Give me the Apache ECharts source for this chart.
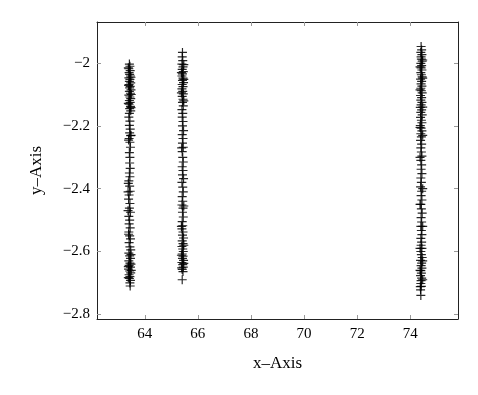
<!DOCTYPE html>
<html><head><meta charset="utf-8">
<script src="https://cdn.jsdelivr.net/npm/echarts@6/dist/echarts.min.js"></script>
<style>html,body{margin:0;padding:0;background:#fff}#c{width:478px;height:395px}</style>
</head><body><div id="c"></div>
<script>
const xTicks = [64, 66, 68, 70, 72, 74];
const yTicks = [-2.8, -2.6, -2.4, -2.2, -2];
const cluster1 = [
[63.42,-2.003],[63.44,-2.010],[63.40,-2.018],[63.45,-2.024],[63.41,-2.030],[63.43,-2.036],[63.46,-2.041],[63.40,-2.047],
[63.44,-2.052],[63.42,-2.058],[63.47,-2.063],[63.41,-2.068],[63.45,-2.074],[63.43,-2.079],[63.48,-2.085],[63.42,-2.090],
[63.46,-2.096],[63.40,-2.102],[63.44,-2.108],[63.47,-2.113],[63.42,-2.119],[63.45,-2.125],[63.41,-2.131],[63.46,-2.138],
[63.43,-2.145],[63.47,-2.152],[63.42,-2.160],[63.40,-2.172],[63.44,-2.185],[63.42,-2.198],[63.45,-2.210],[63.43,-2.222],
[63.47,-2.231],[63.41,-2.240],[63.44,-2.252],[63.46,-2.268],[63.42,-2.285],[63.44,-2.300],[63.43,-2.318],[63.45,-2.335],
[63.42,-2.350],[63.44,-2.362],[63.40,-2.375],[63.38,-2.383],[63.43,-2.392],[63.45,-2.408],[63.41,-2.420],[63.39,-2.433],
[63.44,-2.447],[63.42,-2.462],[63.46,-2.475],[63.40,-2.488],[63.43,-2.500],[63.41,-2.512],[63.45,-2.525],[63.40,-2.538],
[63.43,-2.550],[63.46,-2.560],[63.41,-2.572],[63.44,-2.585],[63.47,-2.595],[63.40,-2.605],[63.43,-2.614],[63.46,-2.622],
[63.40,-2.630],[63.44,-2.637],[63.41,-2.644],[63.46,-2.650],[63.39,-2.656],[63.43,-2.662],[63.47,-2.668],[63.41,-2.674],
[63.44,-2.680],[63.42,-2.686],[63.46,-2.692],[63.44,-2.700],[63.45,-2.710],
[63.38,-2.015],[63.48,-2.045],[63.39,-2.071],[63.49,-2.100],[63.38,-2.128],[63.48,-2.142],[63.39,-2.245],[63.37,-2.410],
[63.48,-2.230],[63.37,-2.470],[63.39,-2.545],[63.48,-2.610],[63.38,-2.648],[63.49,-2.660],[63.38,-2.683],[63.48,-2.640]
];
const cluster2 = [
[65.42,-1.966],[65.41,-1.980],[65.43,-1.992],[65.40,-2.003],[65.44,-2.012],[65.41,-2.020],[65.45,-2.027],[65.42,-2.034],
[65.40,-2.041],[65.44,-2.048],[65.42,-2.055],[65.46,-2.062],[65.41,-2.068],[65.44,-2.075],[65.40,-2.082],[65.43,-2.090],
[65.45,-2.098],[65.41,-2.106],[65.44,-2.115],[65.42,-2.125],[65.45,-2.136],[65.40,-2.148],[65.43,-2.160],[65.41,-2.172],
[65.44,-2.186],[65.42,-2.200],[65.46,-2.215],[65.41,-2.228],[65.44,-2.240],[65.42,-2.255],[65.45,-2.268],[65.41,-2.282],
[65.43,-2.300],[65.45,-2.315],[65.41,-2.330],[65.44,-2.342],[65.42,-2.356],[65.46,-2.368],[65.40,-2.380],[65.43,-2.395],
[65.45,-2.410],[65.41,-2.425],[65.43,-2.440],[65.40,-2.452],[65.44,-2.462],[65.42,-2.475],[65.45,-2.490],[65.41,-2.505],
[65.43,-2.518],[65.40,-2.528],[65.44,-2.538],[65.42,-2.548],[65.46,-2.557],[65.41,-2.566],[65.44,-2.575],[65.40,-2.584],
[65.43,-2.592],[65.45,-2.600],[65.41,-2.608],[65.44,-2.615],[65.42,-2.622],[65.46,-2.628],[65.40,-2.635],[65.43,-2.642],
[65.45,-2.650],[65.41,-2.657],[65.44,-2.664],[65.41,-2.690],
[65.47,-2.005],[65.38,-2.030],[65.47,-2.052],[65.38,-2.095],[65.47,-2.120],[65.39,-2.270],[65.47,-2.455],[65.38,-2.520],
[65.47,-2.580],[65.38,-2.612],[65.47,-2.638],[65.39,-2.652]
];
const cluster3 = [
[74.41,-1.947],[74.43,-1.958],[74.40,-1.966],[74.44,-1.973],[74.41,-1.980],[74.42,-1.987],[74.45,-1.994],[74.40,-2.001],
[74.43,-2.008],[74.41,-2.015],[74.44,-2.022],[74.40,-2.030],[74.42,-2.037],[74.45,-2.044],[74.39,-2.051],[74.43,-2.058],
[74.41,-2.066],[74.44,-2.073],[74.40,-2.080],[74.42,-2.088],[74.45,-2.095],[74.39,-2.103],[74.43,-2.110],[74.40,-2.118],
[74.44,-2.125],[74.41,-2.133],[74.38,-2.141],[74.43,-2.149],[74.40,-2.157],[74.45,-2.165],[74.39,-2.173],[74.42,-2.182],
[74.44,-2.190],[74.38,-2.199],[74.41,-2.207],[74.44,-2.216],[74.40,-2.225],[74.42,-2.235],[74.39,-2.246],[74.43,-2.258],
[74.40,-2.270],[74.42,-2.283],[74.44,-2.296],[74.40,-2.310],[74.43,-2.324],[74.41,-2.338],[74.44,-2.352],[74.40,-2.366],
[74.42,-2.380],[74.39,-2.394],[74.43,-2.408],[74.41,-2.422],[74.44,-2.436],[74.40,-2.450],[74.42,-2.464],[74.45,-2.478],
[74.41,-2.492],[74.43,-2.506],[74.40,-2.520],[74.42,-2.533],[74.44,-2.546],[74.40,-2.558],[74.43,-2.570],[74.41,-2.580],
[74.44,-2.590],[74.40,-2.600],[74.42,-2.610],[74.45,-2.619],[74.39,-2.628],[74.43,-2.637],[74.41,-2.645],[74.44,-2.653],
[74.40,-2.661],[74.42,-2.669],[74.39,-2.677],[74.43,-2.685],[74.41,-2.693],[74.40,-2.702],[74.42,-2.711],[74.39,-2.722],
[74.40,-2.740],
[74.47,-1.990],[74.37,-2.012],[74.47,-2.048],[74.37,-2.085],[74.47,-2.140],[74.37,-2.205],[74.47,-2.230],[74.37,-2.300],
[74.47,-2.400],[74.37,-2.450],[74.47,-2.520],[74.37,-2.590],[74.47,-2.630],[74.37,-2.660],[74.47,-2.690],[74.38,-2.712]
];
const seriesNames = ['cluster1', 'cluster2', 'cluster3'];
const allData = [cluster1, cluster2, cluster3];

const plus = 'path://M4.35,0H5.65V4.35H10V5.65H5.65V10H4.35V5.65H0V4.35H4.35Z';
const fmtY = v => (v < 0 ? '\u2212' + (-v) : '' + v);
const tickColor = '#999';
const fontFam = '"Liberation Serif", "DejaVu Serif", serif';

const chart = echarts.init(document.getElementById('c'), null, {renderer: 'canvas'});
const xBase = {
  type: 'value', min: 62.2, max: 75.8, interval: 2,
  splitLine: {show: false},
  axisLine: {show: true, onZero: false, lineStyle: {color: '#222', width: 1}},
  axisTick: {show: true, inside: true, length: 4, lineStyle: {color: tickColor}, customValues: xTicks},
  axisLabel: {show: true, customValues: xTicks, color: '#000', fontSize: 15, fontFamily: fontFam, margin: 8}
};
const yBase = {
  type: 'value', min: -2.815, max: -1.869,
  splitLine: {show: false},
  axisLine: {show: true, onZero: false, lineStyle: {color: '#222', width: 1}},
  axisTick: {show: true, inside: true, length: 4, lineStyle: {color: tickColor}, customValues: yTicks},
  axisLabel: {show: true, customValues: yTicks, color: '#000', fontSize: 15, fontFamily: fontFam, margin: 7, formatter: fmtY}
};
chart.setOption({
  animation: false,
  grid: {left: 97, right: 20, top: 22, bottom: 76, containLabel: false},
  xAxis: [
    Object.assign({}, xBase, {position: 'bottom', name: 'x\u2013Axis', nameLocation: 'middle', nameGap: 36,
      nameTextStyle: {color: '#000', fontSize: 17, fontFamily: fontFam}}),
    Object.assign({}, xBase, {position: 'top', axisLabel: {show: false}})
  ],
  yAxis: [
    Object.assign({}, yBase, {position: 'left', name: 'y\u2013Axis', nameLocation: 'middle', nameGap: 52,
      nameTextStyle: {color: '#000', fontSize: 17, fontFamily: fontFam}}),
    Object.assign({}, yBase, {position: 'right', axisLabel: {show: false}})
  ],
  series: allData.map((d, i) => ({
    name: seriesNames[i], type: 'scatter', xAxisIndex: 0, yAxisIndex: 0,
    symbol: plus, symbolSize: 9, data: d,
    itemStyle: {color: '#000', opacity: 0.85}
  }))
});
</script></body></html>
